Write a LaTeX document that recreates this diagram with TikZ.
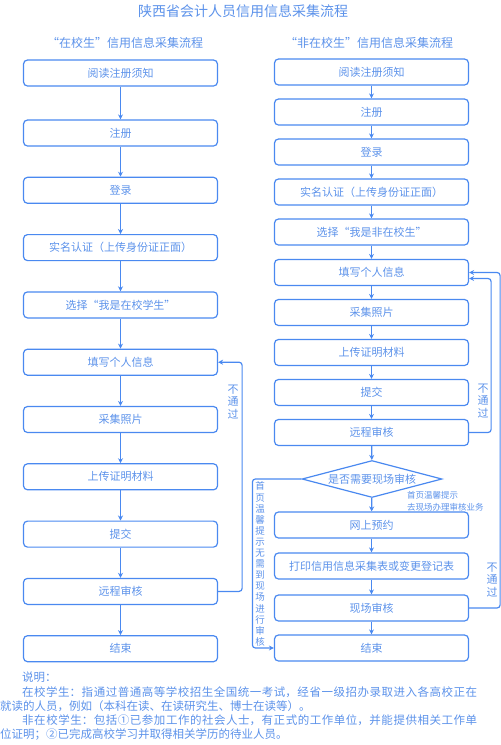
\documentclass[tikz,border=0pt]{standalone}
\usepackage{fontspec}
\setmainfont{Noto Sans CJK SC}
\usepackage{tikz}
\usetikzlibrary{shapes.geometric,arrows.meta}
\XeTeXlinebreaklocale "zh"
\XeTeXlinebreakskip=0pt plus 1pt
\definecolor{lineblue}{RGB}{74,137,240}
\definecolor{textblue}{RGB}{92,146,234}

\begin{document}
\begin{tikzpicture}[x=1pt,y=-1pt]
          \useasboundingbox (0,0) rectangle (501,745);
          \tikzstyle{every node} = [draw=lineblue, line width=1.2pt, rounded corners=4pt, minimum width=194pt, minimum height=26pt, inner sep=0pt, text=textblue, font=\fontsize{11}{13}\selectfont];
          % left flow
          \node(l1) at (120.5,73) {阅读注册须知};
          \node(l2) at (120.5,133) {注册};
          \node(l3) at (120.5,190.3) {登录};
          \node(l4) at (120.5,247.6) {实名认证（上传身份证正面）};
          \node(l5) at (120.5,304.9) {选择“我是在校学生”};
          \node(l6) at (120.5,362.2) {填写个人信息};
          \node(l7) at (120.5,419.5) {采集照片};
          \node(l8) at (120.5,476.8) {上传证明材料};
          \node(l9) at (120.5,534.1) {提交};
          \node(l10) at (120.5,591.4) {远程审核};
          \node(l11) at (120.5,648.7) {结束};
          % right flow
          \node(r1) at (371.5,72) {阅读注册须知};
          \node(r2) at (371.5,112) {注册};
          \node(r3) at (371.5,152) {登录};
          \node(r4) at (371.5,192) {实名认证（上传身份证正面）};
          \node(r5) at (371.5,232) {选择“我是非在校生”};
          \node(r6) at (371.5,272.5) {填写个人信息};
          \node(r7) at (371.5,312.5) {采集照片};
          \node(r8) at (371.5,352.5) {上传证明材料};
          \node(r9) at (371.5,392.5) {提交};
          \node(r10) at (371.5,432.5) {远程审核};
          \node[diamond, sharp corners, shape aspect=3.8, minimum width=140pt, minimum height=37pt](r11) at (372,479) {是否需要现场审核};
          \node(r12) at (371.5,525) {网上预约};
          \node(r13) at (371.5,566) {打印信用信息采集表或变更登记表};
          \node(r14) at (371.5,608) {现场审核};
          \node(r15) at (371.5,648) {结束};
          \tikzstyle{every node} = []
          \tikzstyle{arr} = [lineblue, line width=1.2pt, -{Stealth[length=5pt,width=5pt]}]
          \tikzstyle{back} = [arr, rounded corners=3pt]
          \tikzstyle{lbl} = [text=textblue, inner sep=0pt, align=center]
          \path[arr] (l1) edge (l2) (l2) edge (l3) (l3) edge (l4) (l4) edge (l5) (l5) edge (l6);
          \path[arr] (l6) edge (l7) (l7) edge (l8) (l8) edge (l9) (l9) edge (l10) (l10) edge (l11);
          \path[arr] (r1) edge (r2) (r2) edge (r3) (r3) edge (r4) (r4) edge (r5) (r5) edge (r6);
          \path[arr] (r6) edge (r7) (r7) edge (r8) (r8) edge (r9) (r9) edge (r10) (r10) edge (r11);
          \path[arr] (r11) edge (r12) (r12) edge (r13) (r13) edge (r14) (r14) edge (r15);
          % not passed / branch
          \draw[back] (l10.east) -- ++(24,0) |- (l6.east);
          \draw[back] (r10.east) -- ++(22,0) |- ([yshift=-6pt]r6.east);
          \draw[back] (r14.east) -- ++(31,0) |- (r6.east);
          \draw[back] (r11.west) -- ++(-49,0) |- (r15.west);
          \node[lbl, font=\fontsize{11}{12.2}\selectfont](n1) at (233,402) {不\\通\\过};
          \node[lbl, font=\fontsize{11}{12.2}\selectfont](n2) at (483,401) {不\\通\\过};
          \node[lbl, font=\fontsize{11}{12.2}\selectfont](n3) at (492,580) {不\\通\\过};
          \node[lbl, font=\fontsize{9.5}{11.1}\selectfont](n4) at (260,564) {首\\页\\温\\馨\\提\\示\\无\\需\\到\\现\\场\\进\\行\\审\\核};
          \node[lbl, align=left, anchor=west, font=\fontsize{8.5}{12}\selectfont](n5) at (407,501) {首页温馨提示\\去现场办理审核业务};
          % titles
          \node[lbl, font=\fontsize{14}{16}\selectfont](t0) at (243,11) {陕西省会计人员信用信息采集流程};
          \node[lbl, font=\fontsize{12}{14}\selectfont](t1) at (125,43) {“在校生”信用信息采集流程};
          \node[lbl, font=\fontsize{12}{14}\selectfont](t2) at (369,43) {“非在校生”信用信息采集流程};
          % note
          \node[lbl, align=justify, text width=477pt, anchor=north west, font=\fontsize{11.5}{14.2}\selectfont](t3) at (0,672) {\hspace*{22pt}说明：\\
          \hspace*{22pt}在校学生：指通过普通高等学校招生全国统一考试，经省一级招办录取进入各高校正在\linebreak 就读的人员，例如（本科在读、在读研究生、博士在读等）。\\
          \hspace*{22pt}非在校学生：包括①已参加工作的社会人士，有正式的工作单位，并能提供相关工作单\linebreak 位证明；②已完成高校学习并取得相关学历的待业人员。};
          \end{tikzpicture}
\end{document}
